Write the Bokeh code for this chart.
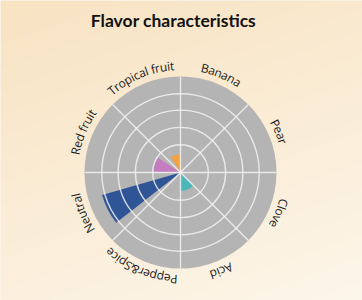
import math
import numpy as np
from bokeh.plotting import figure
from bokeh.models import ColumnDataSource
from bokeh.core.properties import value
from bokeh.embed import file_html
from bokeh.resources import INLINE

# ---- data ----
title = "Flavor characteristics"
categories = ["Banana", "Pear", "Clove", "Acid", "Pepper&Spice", "Neutral", "Red fruit", "Tropical fruit"]
scores = [0, 0, 0, 19, 0, 85, 28, 19]            # radial value, scale 0-100
arc_from = [0, 0, 0, 135, 0, 232, 271, 328]        # degrees clockwise from top
arc_to = [0, 0, 0, 180, 0, 254, 303, 360]
colors = ["#F0A040", "#F0A040", "#4DB6B8", "#4DB6B8", "#2F5597", "#2F5597", "#C47EC0", "#F0A443"]
ring_levels = [29, 47, 65, 82, 100]
max_level = 100

# ---- geometry ----
W, H = 362, 300
cx, cy = 180, 300 - 172
R = 96.0
k = R / max_level

p = figure(width=W, height=H, x_range=(0, W), y_range=(0, H),
           output_backend="svg", toolbar_location=None, min_border=0)
p.axis.visible = False
p.grid.visible = False
p.outline_line_color = None
p.background_fill_color = "#FCEDD8"
p.border_fill_color = "#FCEDD8"

# background gradient
yy, xx = np.mgrid[0:H, 0:W]
t = np.clip((yy / H) * 0.7 + (xx / W) * 0.3, 0, 1)
c0 = np.array([248, 227, 194])
c1 = np.array([253, 246, 234])
img = np.empty((H, W), dtype=np.uint32)
view = img.view(dtype=np.uint8).reshape((H, W, 4))
for ch in range(3):
    view[:, :, ch] = (c0[ch] * (1 - t) + c1[ch] * t).astype(np.uint8)
view[:, :, 3] = 255
p.image_rgba(image=[img[::-1]], x=0, y=0, dw=W, dh=H)

# gray disc
p.circle(x=[cx], y=[cy], radius=R, fill_color="#B4B4B4", line_color=None)

# wedges
def to_bokeh(deg):
    return math.radians(90 - deg)

ws = dict(x=[], y=[], r=[], s=[], e=[], c=[])
for cat, v, a0, a1, col in zip(categories, scores, arc_from, arc_to, colors):
    if v <= 0:
        continue
    ws["x"].append(cx); ws["y"].append(cy)
    ws["r"].append(v * k)
    ws["s"].append(to_bokeh(a1)); ws["e"].append(to_bokeh(a0))
    ws["c"].append(col)
p.wedge(x="x", y="y", radius="r", start_angle="s", end_angle="e",
        fill_color="c", line_color=None, source=ColumnDataSource(ws))

# grid rings and spokes
for lv in ring_levels[:-1]:
    p.circle(x=[cx], y=[cy], radius=lv * k, fill_color=None,
             line_color="#F2F2F2", line_width=1.4, line_alpha=0.85)
for i in range(4):
    a = math.radians(i * 45)
    p.line([cx - R * math.sin(a), cx + R * math.sin(a)],
           [cy - R * math.cos(a), cy + R * math.cos(a)],
           line_color="#F2F2F2", line_width=1.4, line_alpha=0.85)

# curved labels
cw = {'a': .556, 'b': .613, 'c': .48, 'd': .613, 'e': .561, 'f': .336, 'i': .258,
      'l': .258, 'n': .613, 'o': .601, 'p': .613, 'r': .408, 's': .479, 't': .353,
      'u': .613, 'v': .501, '&': .695, 'A': .633, 'B': .647, 'C': .631, 'N': .753,
      'P': .603, 'R': .621, 'S': .549, 'T': .556, ' ': .26}
fs = 12
RL = 107.0
lab = dict(x=[], y=[], t=[], a=[])
for i, cat in enumerate(categories):
    theta_c = 22.5 + 45 * i
    widths = [cw.get(ch, .55) * fs for ch in cat]
    total = sum(widths)
    start = math.radians(theta_c) - (total / RL) / 2
    acc = 0.0
    for ch, w in zip(cat, widths):
        th = start + (acc + w / 2) / RL
        acc += w
        lab["x"].append(cx + RL * math.sin(th))
        lab["y"].append(cy + RL * math.cos(th))
        lab["t"].append(ch)
        lab["a"].append(-th)
p.text(x="x", y="y", text="t", angle="a", source=ColumnDataSource(lab),
       text_align="center", text_baseline="middle", text_font=value("Open Sans"),
       text_font_size=f"{fs}px", text_color="#1A1A1A")

# title
p.text(x=[173], y=[H - 20], text=[title], text_align="center", text_baseline="middle",
       text_font=value("Lato"), text_font_style="bold", text_font_size="17.5px",
       text_color="#111111")

open("out.html", "w").write(file_html(p, INLINE))
